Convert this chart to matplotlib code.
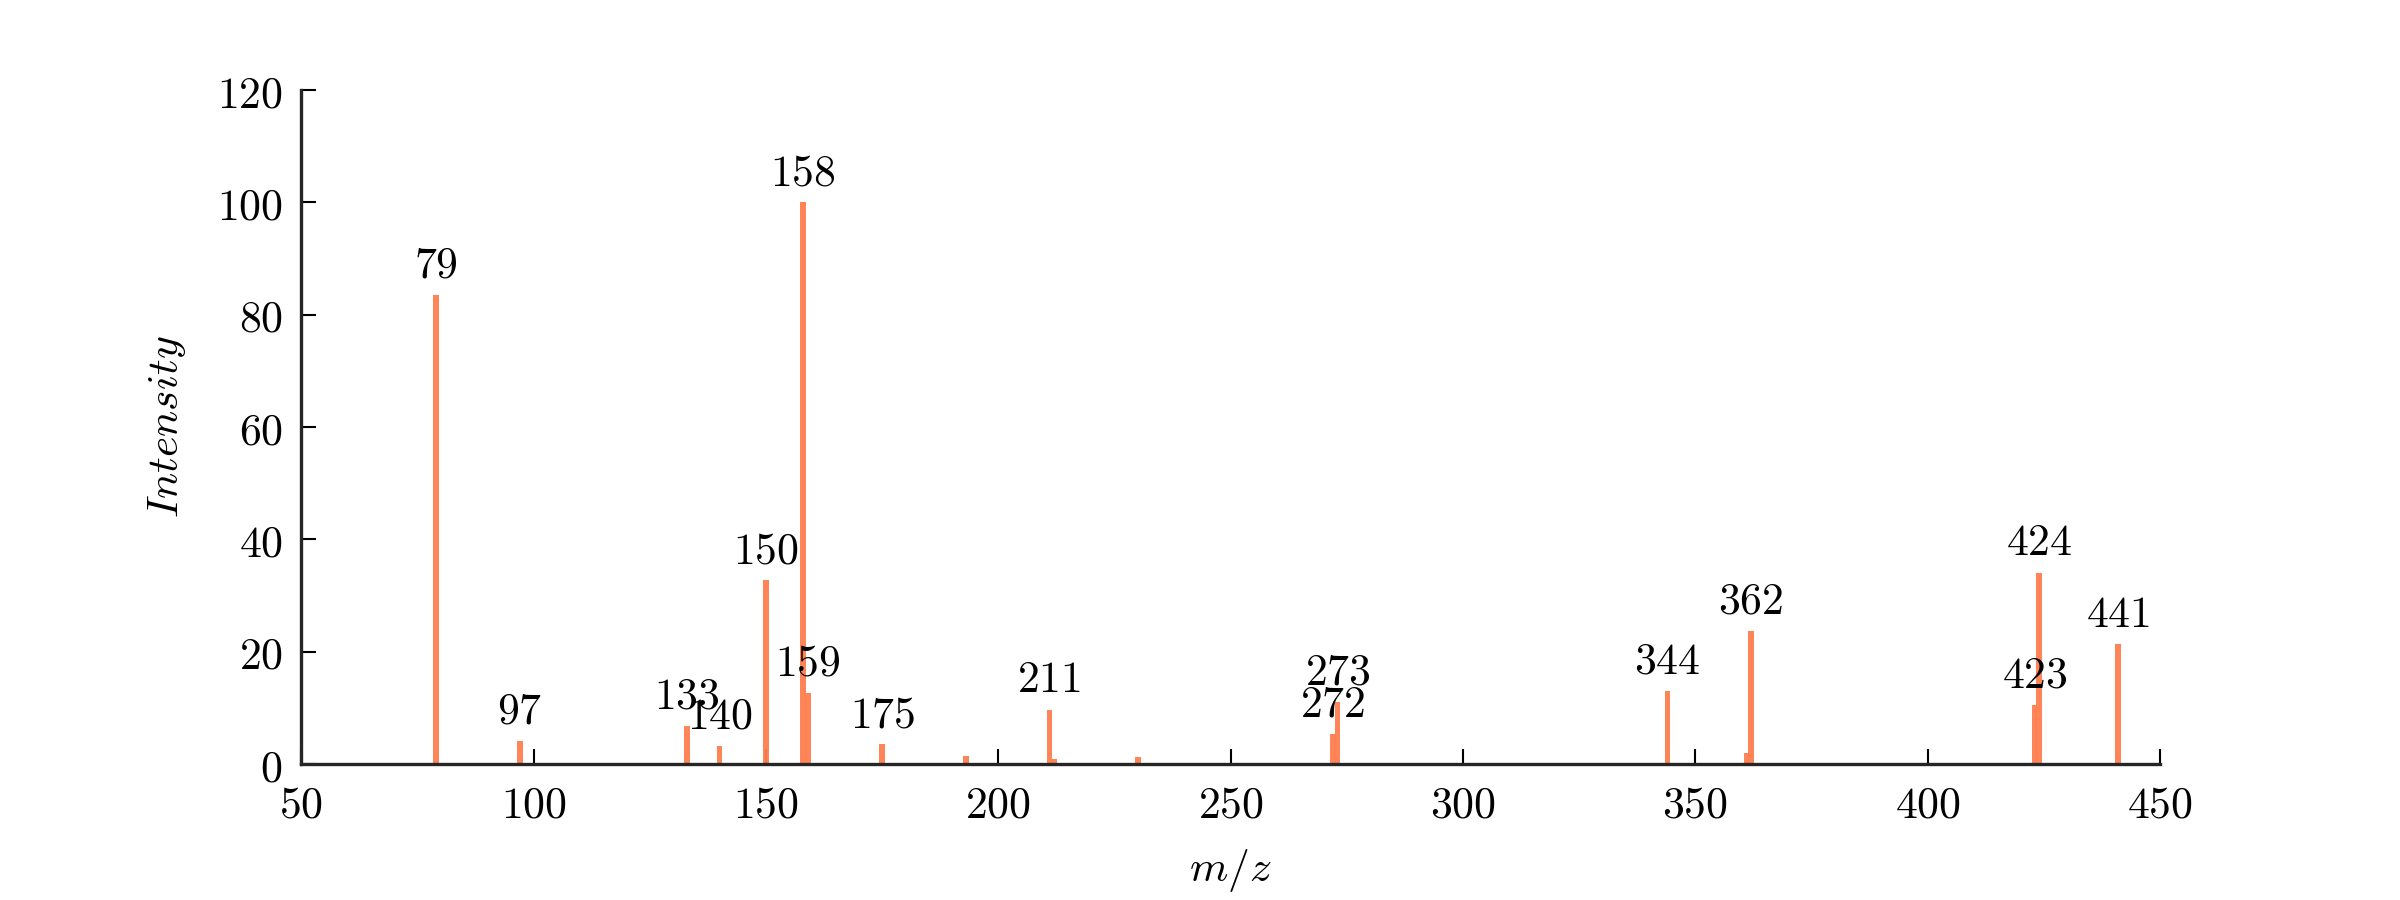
import matplotlib
matplotlib.use("Agg")
import matplotlib.pyplot as plt
from matplotlib.ticker import FuncFormatter

plt.rcParams['mathtext.fontset'] = 'cm'
plt.rcParams['font.family'] = ['DejaVu Serif']

mz = [79, 97, 133, 140, 150, 158, 159, 175, 193, 211, 212, 230, 272, 273, 344, 361, 362, 423, 424, 441]
intensity = [83.5, 4.1, 6.8, 3.3, 32.7, 100.0, 12.6, 3.5, 1.4, 9.7, 0.9, 1.2, 5.4, 11.1, 13.0, 2.0, 23.7, 10.5, 34.1, 21.3]
labelled = [79, 97, 133, 140, 150, 158, 159, 175, 211, 272, 273, 344, 362, 423, 424, 441]

xticks = [50, 100, 150, 200, 250, 300, 350, 400, 450]
yticks = [0, 20, 40, 60, 80, 100, 120]

fig = plt.figure(figsize=(16, 6), dpi=150)
ax = fig.add_axes([0.1256, 0.151, 0.7744, 0.749])

ax.bar(mz, intensity, width=1.2, color='#FF7F50', alpha=0.95, linewidth=0, zorder=2)

for x, y in zip(mz, intensity):
    if x in labelled:
        ax.annotate(r'$%d$' % x, xy=(x, y), xytext=(0, 4), textcoords='offset points',
                    ha='center', va='bottom', fontsize=21, color='black', zorder=3)

ax.set_xlim(50, 450)
ax.set_ylim(0, 120)
ax.set_xticks(xticks)
ax.set_yticks(yticks)
fmt = FuncFormatter(lambda v, p: r'$%d$' % v)
ax.xaxis.set_major_formatter(fmt)
ax.yaxis.set_major_formatter(fmt)
ax.tick_params(axis='both', direction='in', length=7, width=1.0, color='black',
               labelsize=21, pad=9, top=False, right=False)

for s in ['top', 'right']:
    ax.spines[s].set_visible(False)
for s in ['left', 'bottom']:
    ax.spines[s].set_color('#262626')
    ax.spines[s].set_linewidth(1.6)

ax.set_xlabel(r'$m/z$', fontsize=21, labelpad=10)
ax.set_ylabel(r'$Intensity$', fontsize=21, labelpad=14)

fig.savefig('out.png', dpi=150, facecolor='white')
